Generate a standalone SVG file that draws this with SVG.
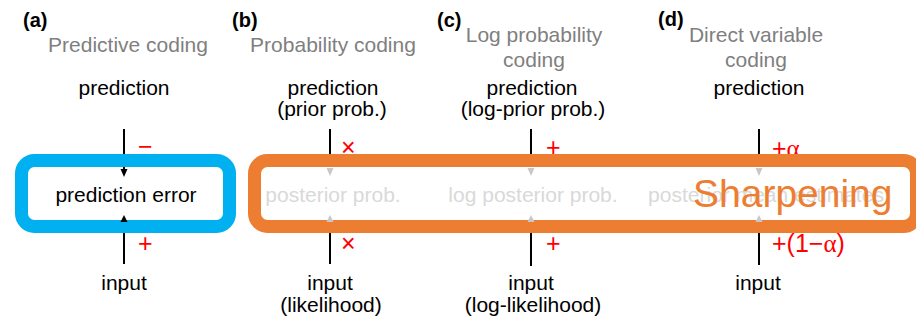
<svg xmlns="http://www.w3.org/2000/svg" width="916" height="320" viewBox="0 0 916 320">
<style>
  text { font-family: "Liberation Sans", Arial, sans-serif; font-size: 21px; }
  .panel { font-weight: bold; font-size: 20px; fill: #000; }
  .title { fill: #7f7f7f; text-anchor: middle; }
  .lbl { fill: #000; text-anchor: middle; }
  .hid { fill: #d9d9d9; text-anchor: middle; }
  .sign { fill: #ff0000; font-size: 25px; }
  .greek { font-family: "Liberation Serif", "Times New Roman", serif; }
  .ln { stroke: #000; stroke-width: 2; fill: none; }
  .ah { fill: #000; }
  .ahg { fill: #c8c8c8; }
  .sharp { fill: #ed7d31; font-size: 39px; }
</style>

<!-- panel titles -->
<g id="titles">
  <text class="panel" x="23" y="27">(a)</text>
  <text class="title" x="128" y="52">Predictive coding</text>
  <text class="panel" x="232" y="27">(b)</text>
  <text class="title" x="333" y="52">Probability coding</text>
  <text class="panel" x="437" y="27">(c)</text>
  <text class="title" x="534" y="42">Log probability</text>
  <text class="title" x="534" y="67">coding</text>
  <text class="panel" x="658" y="26">(d)</text>
  <text class="title" x="756" y="42">Direct variable</text>
  <text class="title" x="756" y="67">coding</text>
</g>

<!-- prediction nodes -->
<g id="pred-a"><text class="lbl" x="124" y="95">prediction</text></g>
<g id="pred-b"><text class="lbl" x="333" y="95">prediction</text><text class="lbl" x="332" y="116">(prior prob.)</text></g>
<g id="pred-c"><text class="lbl" x="532" y="95">prediction</text><text class="lbl" x="533" y="116">(log-prior prob.)</text></g>
<g id="pred-d"><text class="lbl" x="759" y="95">prediction</text></g>

<!-- input nodes -->
<g id="input-a"><text class="lbl" x="124" y="290">input</text></g>
<g id="input-b"><text class="lbl" x="330" y="290">input</text><text class="lbl" x="331" y="312">(likelihood)</text></g>
<g id="input-c"><text class="lbl" x="531" y="290">input</text><text class="lbl" x="533" y="312">(log-likelihood)</text></g>
<g id="input-d"><text class="lbl" x="758" y="290">input</text></g>

<!-- operation signs -->
<g id="signs">
  <text class="sign" x="138" y="155">−</text>
  <text class="sign" x="138" y="252">+</text>
  <text class="sign" x="341" y="156">×</text>
  <text class="sign" x="341" y="252">×</text>
  <text class="sign" x="546" y="156">+</text>
  <text class="sign" x="546" y="252">+</text>
  <text class="sign" x="772" y="157">+<tspan class="greek">α</tspan></text>
  <text class="sign" x="772" y="252">+(1−<tspan class="greek">α</tspan>)</text>
</g>

<!-- boxes -->
<g id="box-a">
  <rect x="21.5" y="160.5" width="208" height="66" rx="13" ry="13" fill="#fff" stroke="#00b0f0" stroke-width="13"/>
  <text class="lbl" x="126" y="202">prediction error</text>
</g>
<g id="box-sharpening">
  <rect x="254.5" y="160.5" width="662" height="66" rx="13" ry="13" fill="#fff" stroke="#ed7d31" stroke-width="13"/>
</g>
<g id="node-b"><text class="hid" x="333" y="202">posterior prob.</text></g>
<g id="node-c"><text class="hid" x="533" y="202">log posterior prob.</text></g>
<g id="node-d"><text class="hid" x="766" y="202">posterior mean estimates</text></g>

<!-- connectors -->
<g id="connectors">
  <path class="ln" d="M124,129 V154 M124,233 V264 M330,129 V154 M330,233 V264 M531,129 V154 M531,233 V266 M759,129 V154 M759,233 V265"/>
  <path class="ln" d="M124,167 V170 M124,221 V222"/>
  <polygon class="ah" points="120.5,169 127.5,169 124,177"/>
  <polygon class="ah" points="120.5,222 127.5,222 124,215"/>
  <polygon class="ahg" points="326.5,168 333.5,168 330,176"/>
  <polygon class="ahg" points="326.5,222 333.5,222 330,215"/>
  <polygon class="ahg" points="527.5,168 534.5,168 531,176"/>
  <polygon class="ahg" points="527.5,222 534.5,222 531,215"/>
  <polygon class="ahg" points="755.5,168 762.5,168 759,176"/>
  <polygon class="ahg" points="755.5,222 762.5,222 759,215"/>
</g>

<g id="sharpening-label">
  <text class="sharp" x="693" y="207">Sharpening</text>
</g>
</svg>
